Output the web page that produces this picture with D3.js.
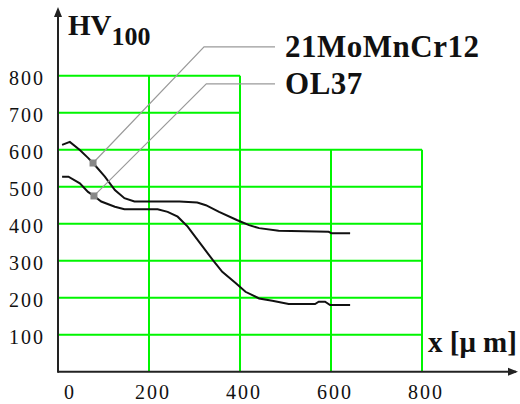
<!DOCTYPE html>
<html>
<head>
<meta charset="utf-8">
<script src="https://cdn.jsdelivr.net/npm/d3@7"></script>
<style>
  html, body { margin: 0; padding: 0; background: #fff; }
  svg { display: block; }
</style>
</head>
<body>
<div id="chart"></div>
<script>
// depth x [µm] and hardness HV100
const xA = [9, 26, 48, 66, 77, 103, 125, 146, 168, 267, 306, 325, 354, 393, 420, 442, 485, 595, 601, 642]
const hvA = [613, 621, 599, 578, 564, 527, 491, 469, 460, 460, 457, 450, 432, 410, 396, 388, 381, 378, 374, 374]
const xB = [9, 23, 48, 66, 79, 95, 125, 146, 219, 241, 263, 285, 296, 318, 340, 361, 391, 412, 442, 471, 507, 565, 573, 587, 598, 642]
const hvB = [527, 527, 509, 486, 475, 460, 446, 439, 439, 432, 419, 392, 374, 338, 302, 270, 239, 216, 198, 192, 183, 183, 189, 189, 180, 180]

const seriesNames = ["21MoMnCr12", "OL37"]
const markerIdx = [4, 4]
const elbowX = [321, 326]
const elbowY = [878, 778]
const leaderEndX = [477, 477]

const xTicks = [0, 200, 400, 600, 800]
const yTicks = [100, 200, 300, 400, 500, 600, 700, 800]

const width = 520, height = 404
const x = d3.scaleLinear().domain([0, 800]).range([58, 422])
const y = d3.scaleLinear().domain([0, 800]).range([371.7, 75.7])

const svg = d3.select("#chart").append("svg")
  .attr("width", width).attr("height", height)
  .attr("viewBox", `0 0 ${width} ${height}`)

const serif = "'Liberation Serif', 'Times New Roman', serif"
const green = "#00f500"

// grid: stepped shape, top rows only reach x=400
const grid = svg.append("g").attr("stroke", green).attr("stroke-width", 2).attr("fill", "none")
yTicks.forEach(v => {
  const xEnd = v > 600 ? 400 : 800
  grid.append("line").attr("x1", x(0)).attr("x2", x(xEnd)).attr("y1", y(v)).attr("y2", y(v))
})
xTicks.slice(1).forEach(v => {
  const yTop = v > 400 ? 600 : 800
  grid.append("line").attr("x1", x(v)).attr("x2", x(v)).attr("y1", y(0)).attr("y2", y(yTop))
})

// axes with arrows
const axisCol = "#222"
svg.append("line").attr("x1", x(0)).attr("x2", 516).attr("y1", y(0)).attr("y2", y(0))
  .attr("stroke", axisCol).attr("stroke-width", 2)
svg.append("path").attr("d", `M518,${y(0)} L508,${y(0) - 4} L508,${y(0) + 4} Z`).attr("fill", axisCol)
svg.append("line").attr("x1", x(0)).attr("x2", x(0)).attr("y1", y(0) + 1).attr("y2", 12)
  .attr("stroke", axisCol).attr("stroke-width", 2)
svg.append("path").attr("d", `M${x(0)},7 L${x(0) - 4},17 L${x(0) + 4},17 Z`).attr("fill", axisCol)

// tick labels (wide, slightly spaced digits like the original)
svg.append("g").selectAll("text").data(yTicks).join("text")
  .attr("x", 45).attr("y", d => y(d) + 9.5)
  .attr("text-anchor", "end").attr("letter-spacing", 2)
  .attr("font-family", serif).attr("font-size", 20).attr("fill", "#111")
  .text(d => d)
svg.append("g").selectAll("text").data(xTicks).join("text")
  .attr("x", d => d === 0 ? x(d) + 12 : x(d) + 4).attr("y", 399)
  .attr("text-anchor", "middle").attr("letter-spacing", 2)
  .attr("font-family", serif).attr("font-size", 20).attr("fill", "#111")
  .text(d => d)

// axis titles
const yTitle = svg.append("text").attr("x", 68).attr("y", 35)
  .attr("font-family", serif).attr("font-weight", "bold").attr("font-size", 29).attr("fill", "#111")
yTitle.append("tspan").text("HV")
yTitle.append("tspan").attr("font-size", 26).attr("dy", 10).text("100")

svg.append("text").attr("x", 428).attr("y", 352)
  .attr("font-family", serif).attr("font-weight", "bold").attr("font-size", 29).attr("fill", "#111")
  .text("x [μ m]")

// curves
const line = d3.line().x(d => x(d[0])).y(d => y(d[1]))
const series = [d3.zip(xA, hvA), d3.zip(xB, hvB)]
svg.append("g").selectAll("path").data(series).join("path")
  .attr("d", line)
  .attr("fill", "none").attr("stroke", "#111").attr("stroke-width", 2)

// leader lines + labels
series.forEach((pts, i) => {
  const p = pts[markerIdx[i]]
  svg.append("polyline")
    .attr("points", [[x(p[0]), y(p[1])], [x(elbowX[i]), y(elbowY[i])], [x(leaderEndX[i]), y(elbowY[i])]].join(" "))
    .attr("fill", "none").attr("stroke", "#9a9a9a").attr("stroke-width", 1.2)
  svg.append("rect")
    .attr("x", x(p[0]) - 3.5).attr("y", y(p[1]) - 3.5)
    .attr("width", 7).attr("height", 7).attr("fill", "#888")
  svg.append("text")
    .attr("x", x(leaderEndX[i]) + 10).attr("y", y(elbowY[i]) + 10)
    .attr("letter-spacing", 0.5)
    .attr("font-family", serif).attr("font-weight", "bold").attr("font-size", 31).attr("fill", "#111")
    .text(seriesNames[i])
})
</script>
</body>
</html>
